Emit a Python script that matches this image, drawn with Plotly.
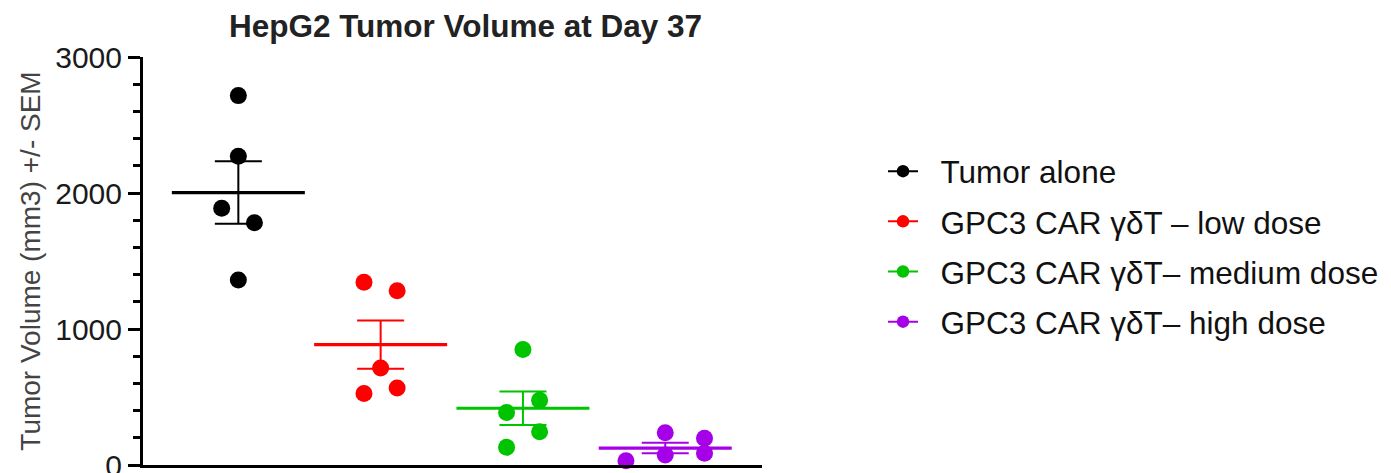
import numpy as np
import plotly.graph_objects as go

# ---- data ----
groups = ["Tumor alone", "GPC3 CAR γδT – low dose", "GPC3 CAR γδT– medium dose", "GPC3 CAR γδT– high dose"]
tumor_alone = [2716, 2271, 1888, 1782, 1360]
low_dose = [1343, 1282, 713, 525, 566]
medium_dose = [850, 386, 476, 244, 130]
high_dose = [32, 237, 73, 196, 86]
values = [tumor_alone, low_dose, medium_dose, high_dose]

# horizontal scatter offsets of points within each group (category units)
offsets = [
    [0, 0, -0.117, 0.113, 0],
    [-0.117, 0.116, 0, -0.117, 0.116],
    [0, -0.115, 0.117, 0.117, -0.115],
    [-0.276, 0, 0, 0.276, 0.276],
]
colors = ["#000000", "#FF0000", "#00C400", "#A600E8"]
y_ticks = [0, 1000, 2000, 3000]

FONT = "Liberation Sans, Arial, sans-serif"
PAGE = 8  # default page body margin offsets the figure on screen

fig = go.Figure()

for i, (vals, offs, col) in enumerate(zip(values, offsets, colors)):
    arr = np.array(vals, dtype=float)
    mean = arr.mean()
    sem = arr.std(ddof=1) / np.sqrt(len(arr))
    # mean line + SEM error bar
    fig.add_trace(go.Scatter(
        x=[i], y=[mean], mode="markers", showlegend=False, hoverinfo="skip",
        marker=dict(symbol="line-ew", size=95, color=col,
                    line=dict(width=3.2, color=col)),
        error_y=dict(type="data", array=[sem], visible=True, color=col,
                     thickness=2, width=23.5),
        cliponaxis=False,
    ))
    # individual points
    fig.add_trace(go.Scatter(
        x=[i + o for o in offs], y=vals, mode="markers", showlegend=False,
        marker=dict(size=17, color=col, line=dict(width=0)),
        cliponaxis=False, name=groups[i],
    ))

# legend entries
for name, col in zip(groups, colors):
    fig.add_trace(go.Scatter(
        x=[None], y=[None], mode="lines+markers", name="\u00a0\u00a0" + name,
        marker=dict(size=12.5, color=col), line=dict(width=2, color=col),
        legendgroup=name,
    ))

L, R_EDGE, T, B_EDGE = 143 - PAGE, 762 - PAGE, 57 - PAGE, 465 - PAGE
fig.update_layout(
    template="none",
    width=1391, height=473,
    margin=dict(l=L, r=1391 - R_EDGE, t=T, b=473 - B_EDGE, pad=0, autoexpand=False),
    paper_bgcolor="white", plot_bgcolor="white",
    font=dict(family=FONT, color="#111111"),
    title=dict(text="<b>HepG2 Tumor Volume at Day 37</b>", x=(465.5 - PAGE) / 1391, xanchor="center",
               xref="container", y=1 - (26 - PAGE) / 473, yref="container", yanchor="middle",
               font=dict(size=31.5, color="#222222", family=FONT)),
    xaxis=dict(range=[-0.67, 3.68], showline=True, linewidth=3, linecolor="black",
               showticklabels=False, ticks="", showgrid=False, zeroline=False,
               automargin=False),
    yaxis=dict(range=[0, 3000], showline=True, linewidth=3, linecolor="black",
               tickvals=y_ticks, ticktext=[str(v) for v in y_ticks],
               ticks="outside", ticklen=12, tickwidth=3, tickcolor="black",
               minor=dict(dtick=200, ticks="outside", ticklen=7, tickwidth=3, tickcolor="black"),
               tickfont=dict(size=30, color="#1a1a1a", family=FONT),
               ticklabeloverflow="allow",
               showgrid=False, zeroline=False, automargin=False,
               title=dict(text="Tumor Volume (mm3) +/- SEM\u00a0\u00a0", standoff=7,
                          font=dict(size=28, color="#444444", family=FONT))),
    legend=dict(x=(875 - L) / (R_EDGE - L), xanchor="left", y=0.535, yanchor="middle",
                font=dict(size=31.5, color="#111111", family=FONT),
                bgcolor="rgba(0,0,0,0)", borderwidth=0, tracegroupgap=6.2,
                traceorder="grouped"),
    showlegend=True,
)

fig.write_html("out.html")
